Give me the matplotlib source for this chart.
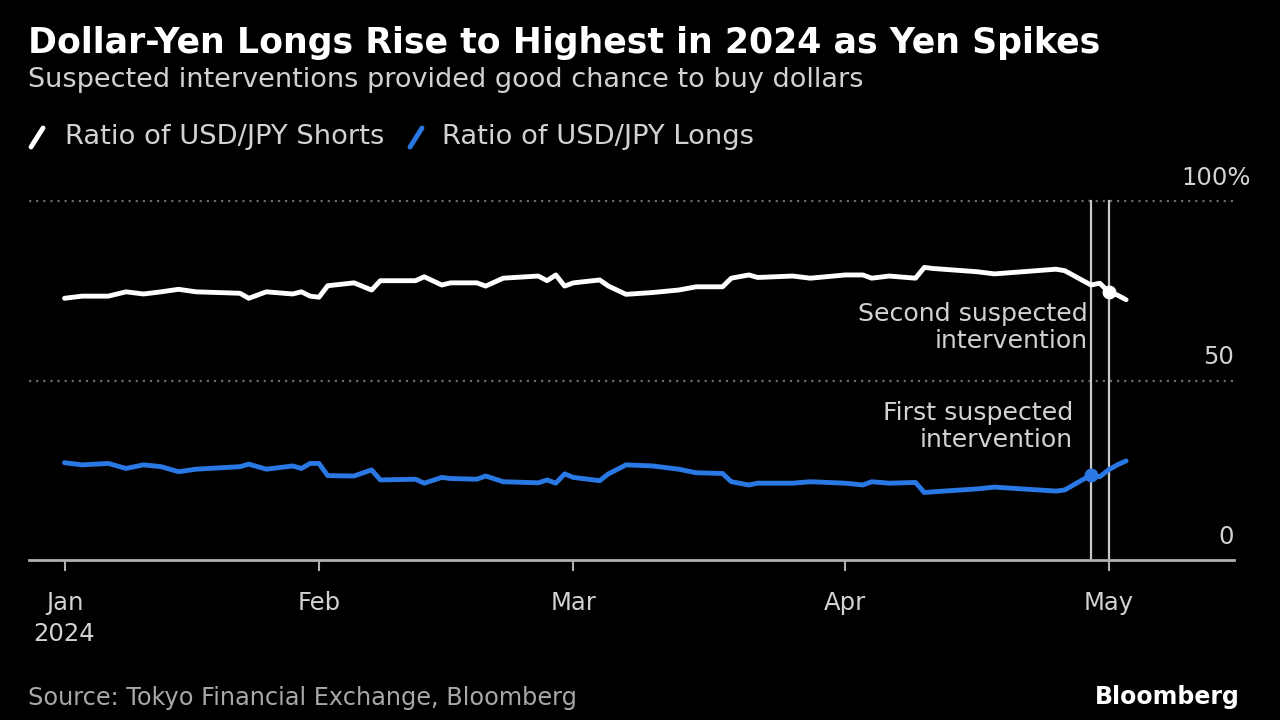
import matplotlib
matplotlib.use("Agg")
import matplotlib.pyplot as plt
from matplotlib.lines import Line2D
import pandas as pd

plt.rcParams['font.family'] = ['DejaVu Sans']

# ---- data ----
day_offsets = [2, 4, 7, 9, 11, 13, 15, 17, 22, 23, 25, 28, 29, 30, 31, 32, 35, 37, 38,
               42, 43, 45, 46, 49, 50, 52, 56, 57, 58, 59, 60, 63, 64, 66, 69, 72, 74,
               77, 78, 80, 81, 85, 87, 91, 93, 94, 96, 99, 100, 101, 106, 108, 115, 116,
               119, 120, 121, 122, 123]
shorts = [72.9, 73.5, 73.5, 74.7, 74.1, 74.7, 75.4, 74.7, 74.3, 72.9, 74.7, 74.1, 74.7,
          73.5, 73.2, 76.4, 77.2, 75.2, 77.8, 77.8, 78.9, 76.6, 77.2, 77.2, 76.3, 78.5,
          79.1, 77.8, 79.4, 76.3, 77.2, 78.0, 76.3, 74.0, 74.5, 75.2, 76.1, 76.1, 78.5,
          79.4, 78.7, 79.1, 78.5, 79.4, 79.4, 78.5, 79.1, 78.5, 81.5, 81.2, 80.3, 79.7,
          81.0, 80.6, 76.6, 77.1, 74.7, 73.8, 72.5]
longs = [27.1, 26.5, 26.9, 25.5, 26.5, 26.0, 24.6, 25.3, 26.0, 26.7, 25.3, 26.2, 25.5,
         26.9, 26.9, 23.5, 23.4, 25.1, 22.3, 22.5, 21.4, 23.0, 22.7, 22.5, 23.4, 21.8,
         21.5, 22.3, 21.4, 24.0, 23.0, 22.1, 24.0, 26.5, 26.2, 25.3, 24.3, 24.1, 21.8,
         20.9, 21.4, 21.4, 21.8, 21.4, 20.9, 21.8, 21.4, 21.6, 18.8, 19.0, 19.8, 20.3,
         19.2, 19.5, 23.7, 23.2, 25.1, 26.5, 27.6]
dates = pd.Timestamp("2024-01-01") + pd.to_timedelta(day_offsets, unit="D")

intervention_dates = pd.to_datetime(["2024-04-29", "2024-05-01"])
tick_dates = pd.to_datetime(["2024-01-03", "2024-02-01", "2024-03-01", "2024-04-01", "2024-05-01"])
tick_labels = ["Jan\n2024", "Feb", "Mar", "Apr", "May"]
y_ticks = [0, 50, 100]
y_tick_labels = ["0", "50", "100%"]

title = "Dollar-Yen Longs Rise to Highest in 2024 as Yen Spikes"
subtitle = "Suspected interventions provided good chance to buy dollars"
legend_labels = ["Ratio of USD/JPY Shorts", "Ratio of USD/JPY Longs"]
source = "Source: Tokyo Financial Exchange, Bloomberg"

WHITE = "#ffffff"
BLUE = "#2a78e4"
GREY = "#d2d2d2"
BG = "#000000"

W, H = 1280, 720
fig = plt.figure(figsize=(12.8, 7.2), dpi=100, facecolor=BG)

def px(x, y):
    return x / W, 1 - y / H

ax_l, ax_r, ax_t, ax_b = 29, 1234, 201, 560
ax = fig.add_axes([ax_l / W, 1 - ax_b / H, (ax_r - ax_l) / W, (ax_b - ax_t) / H])
ax.set_facecolor(BG)
ax.set_ylim(0, 100)
x0 = pd.Timestamp("2024-01-01") - pd.Timedelta(days=2.05)
x1 = pd.Timestamp("2024-01-01") + pd.Timedelta(days=135.3)
ax.set_xlim(x0, x1)

for s in ["top", "left", "right"]:
    ax.spines[s].set_visible(False)
ax.spines["bottom"].set_color("#b0b0b0")
ax.spines["bottom"].set_linewidth(2)

# gridlines
for v in [50, 100]:
    ax.axhline(v, color="#6a6a6a", lw=1.6, ls=(0, (1, 2.2)), clip_on=False, zorder=1)

# vertical intervention lines
for d in intervention_dates:
    ax.axvline(d, ymin=0, ymax=1, color="#c8c8c8", lw=1.6, zorder=2, clip_on=False)

ax.plot(dates, shorts, color=WHITE, lw=3.5, solid_joinstyle="round", solid_capstyle="round", zorder=3)
ax.plot(dates, longs, color=BLUE, lw=3.5, solid_joinstyle="round", solid_capstyle="round", zorder=3)

# markers at interventions
s_series = pd.Series(shorts, index=dates)
l_series = pd.Series(longs, index=dates)
ax.plot([intervention_dates[0]], [l_series[intervention_dates[0]]], "o", color=BLUE, ms=9, zorder=4)
ax.plot([intervention_dates[1]], [s_series[intervention_dates[1]]], "o", color=WHITE, ms=9, zorder=4)

# x ticks
ax.set_xticks(tick_dates)
ax.set_xticklabels(tick_labels, color=GREY, fontsize=17.5, linespacing=1.4)
ax.tick_params(axis="x", length=8, width=1.5, color="#b0b0b0", pad=14)
for lab in ax.get_xticklabels():
    lab.set_verticalalignment("top")
ax.set_yticks([])

# y labels above gridlines on the right
for v, lab in zip(y_ticks, y_tick_labels):
    dx = 12 if lab.endswith("%") else 0
    ax.annotate(lab, xy=(1, v), xycoords=("axes fraction", "data"),
                xytext=(dx, 8), textcoords="offset points",
                ha="right", va="bottom", color=GREY, fontsize=17.5, annotation_clip=False)

# annotations
ax.annotate("Second suspected\nintervention", xy=(intervention_dates[0], 64.8),
            xytext=(-2, 0), textcoords="offset points", ha="right", va="center",
            color=GREY, fontsize=18.2, linespacing=1.15)
ax.annotate("First suspected\nintervention", xy=(intervention_dates[0], 37.2),
            xytext=(-13, 0), textcoords="offset points", ha="right", va="center",
            color=GREY, fontsize=18.2, linespacing=1.15)

# titles
fig.text(*px(28, 43), title, color=WHITE, fontsize=25, fontweight="bold", va="center", ha="left")
fig.text(*px(28, 80), subtitle, color=GREY, fontsize=19.5, va="center", ha="left")

# legend
fig.add_artist(Line2D([31 / W, 43 / W], [1 - 147 / H, 1 - 128 / H], color=WHITE, lw=3.5, solid_capstyle="round"))
fig.text(*px(65, 137), legend_labels[0], color=GREY, fontsize=19.7, va="center", ha="left")
fig.add_artist(Line2D([410 / W, 422 / W], [1 - 147 / H, 1 - 128 / H], color=BLUE, lw=3.5, solid_capstyle="round"))
fig.text(*px(442, 137), legend_labels[1], color=GREY, fontsize=19.7, va="center", ha="left")

# footer
fig.text(*px(28, 698), source, color="#a8a8a8", fontsize=17.3, va="center", ha="left")
fig.text(*px(1240, 697), "Bloomberg", color=WHITE, fontsize=17, fontweight="bold", va="center", ha="right")

fig.savefig("out.png", dpi=100, facecolor=BG)
